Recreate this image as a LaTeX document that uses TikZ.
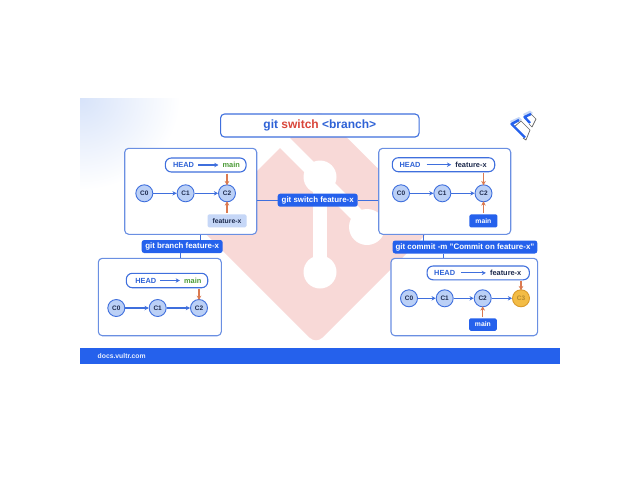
\documentclass[tikz,border=0pt]{standalone}
\usepackage{fontspec}
\setmainfont{Liberation Sans}
\usetikzlibrary{arrows.meta,calc}
\definecolor{vblue}{HTML}{2561EC}
\definecolor{vborder}{HTML}{6A8FE2}
\definecolor{vedge}{HTML}{3F6FDD}
\definecolor{vcirc}{HTML}{BBD0F6}
\definecolor{vlight}{HTML}{C6D7F7}
\definecolor{vhead}{HTML}{2E62D6}
\definecolor{vorange}{HTML}{DB7A50}
\definecolor{vgreen}{HTML}{4A9A35}
\definecolor{vdark}{HTML}{1D2A4D}
\definecolor{vpink}{HTML}{F8D9D7}
\definecolor{vred}{HTML}{D9463A}
\definecolor{vgold}{HTML}{F3BC45}
\definecolor{vgoldedge}{HTML}{D99A2B}
\definecolor{vgoldtext}{HTML}{B58A2E}
\tikzset{
  x=1pt,y=-1pt,
  panel/.style={draw=vborder,line width=1.1pt,rounded corners=4pt,fill=white,inner sep=0pt},
  pill/.style={draw=vedge,line width=1.1pt,rounded corners=6pt,fill=white,inner sep=0pt},
  cmd/.style={fill=vblue,text=white,rounded corners=2.5pt,inner sep=0pt,font=\bfseries\fontsize{7.9}{10}\selectfont},
  tag/.style={rounded corners=1.5pt,inner sep=0pt,font=\bfseries\fontsize{6.8}{8}\selectfont},
  commit/.style={circle,draw=vedge,line width=.9pt,fill=vcirc,minimum size=17pt,inner sep=0pt,text=vdark,font=\bfseries\fontsize{6.5}{7}\selectfont},
  lbl/.style={inner sep=0pt,font=\bfseries\fontsize{7.4}{9}\selectfont},
  link/.style={draw=vedge,line width=1pt},
  flow/.style={draw=vedge,line width=1.1pt,-{Stealth[length=4.2pt,width=4.4pt]}},
  ptr/.style={draw=vorange,line width=1.2pt,-{Stealth[length=4.4pt,width=4.6pt]}},
}
\begin{document}
\begin{tikzpicture}
\useasboundingbox (0,0) rectangle (640,480);
% corner glow
\begin{scope}
\clip (80,98) rectangle (190,200);
\shade[inner color=vlight!70!white,outer color=white] (80,98) ellipse (100 and 92);
\end{scope}
% git logo
\fill[vpink,rounded corners=9pt] (318.5,109.5) -- (435,225) -- (316,344) -- (200,228) -- cycle;
\draw[white,line width=14pt] (280,138) -- (367,225);
\draw[white,line width=14pt] (320,177) -- (320,272);
\fill[white] (320,177) circle (16.5) (367,227) circle (18) (320,272) circle (16.5);
% footer
\fill[vblue] (80,348) rectangle (560,364);
\node[anchor=west,text=white!90!vblue,inner sep=0pt,font=\bfseries\fontsize{6.8}{8}\selectfont] (site) at (97.5,356) {docs.vultr.com};
% title
\node[panel,draw=vedge,minimum width=198.5pt,minimum height=23pt,font=\bfseries\fontsize{12}{15}\selectfont] (title) at (319.8,125.5)
  {\textcolor{vhead}{git} \textcolor{vred}{switch} \textcolor{vhead}{<branch>}};
% panels
\node[panel,minimum width=132pt,minimum height=86pt] (tl) at (190.7,191.3) {};
\node[panel,minimum width=132pt,minimum height=86pt] (tr) at (444.7,191.3) {};
\node[panel,minimum width=123pt,minimum height=77.4pt] (bl) at (159.8,297) {};
\node[panel,minimum width=146.7pt,minimum height=77.4pt] (br) at (464.3,297) {};
% command labels
\node[cmd,minimum width=80pt,minimum height=13pt] (sw) at (317.7,200.2) {git switch feature-x};
\node[cmd,minimum width=81pt,minimum height=13pt] (lb) at (182.2,246.5) {git branch feature-x};
\node[cmd,minimum width=144.6pt,minimum height=13pt] (lc) at (465,247) {git commit -m "Commit on feature-x"};
\coordinate (ja) at (200.7,240);
\coordinate (jb) at (180.7,253);
\coordinate (jc) at (423.3,240.5);
\coordinate (jd) at (443.7,253.5);
\draw[link] (sw.west) -- (sw.west -| tl.east);
\draw[link] (sw.east) -- (sw.east -| tr.west);
\draw[link] (ja) -- (ja |- tl.south);
\draw[link] (jb) -- (jb |- bl.north);
\draw[link] (jc) -- (jc |- tr.south);
\draw[link] (jd) -- (jd |- br.north);
% top-left panel
\node[pill,minimum width=80.7pt,minimum height=14pt] (tlp) at (205.7,165) {};
\node[lbl,text=vhead] (tlh) at (183.5,165) {HEAD};
\node[lbl,text=vgreen] (tlm) at (231.3,165) {main};
\draw[flow] ($(tlh.east)+(4,0)$) -- ($(tlm.west)+(-4,0)$);
\node[commit] (a0) at (144.3,193.3) {C0};
\node[commit] (a1) at (185.6,193.3) {C1};
\node[commit] (a2) at (227,193.3) {C2};
\draw[flow] (a0) -- (a1);
\draw[flow] (a1) -- (a2);
\node[tag,fill=vlight,text=vdark,minimum width=39pt,minimum height=13pt] (tlf) at (227,220.9) {feature-x};
\draw[ptr] ($(a2 |- tlp.south)+(0,1)$) -- ([yshift=-1pt]a2.north);
\draw[ptr] ($(a2 |- tlf.north)+(0,-1)$) -- ([yshift=1pt]a2.south);
% top-right panel
\node[pill,minimum width=102.4pt,minimum height=14pt] (trp) at (443.5,164.7) {};
\node[lbl,text=vhead] (trh) at (410,164.7) {HEAD};
\node[lbl,text=vdark] (trf) at (471,164.7) {feature-x};
\draw[flow] ($(trh.east)+(6,0)$) -- ($(trf.west)+(-4,0)$);
\node[commit] (b0) at (401,193.3) {C0};
\node[commit] (b1) at (442.3,193.3) {C1};
\node[commit] (b2) at (483.5,193.3) {C2};
\draw[flow] (b0) -- (b1);
\draw[flow] (b1) -- (b2);
\node[tag,fill=vblue,text=white,minimum width=28pt,minimum height=13pt] (trm) at (483.4,220.9) {main};
\draw[ptr] ($(b2 |- trp.south)+(0,1)$) -- ([yshift=-1pt]b2.north);
\draw[ptr] ($(b2 |- trm.north)+(0,-1)$) -- ([yshift=1pt]b2.south);
% bottom-left panel
\node[pill,minimum width=81.4pt,minimum height=14.4pt] (blp) at (167,280.5) {};
\node[lbl,text=vhead] (blh) at (145.8,280.5) {HEAD};
\node[lbl,text=vgreen] (blm) at (192.7,280.5) {main};
\draw[flow] ($(blh.east)+(4,0)$) -- ($(blm.west)+(-4,0)$);
\node[commit] (c0) at (116.3,308) {C0};
\node[commit] (c1) at (157.7,308) {C1};
\node[commit] (c2) at (199,308) {C2};
\draw[flow] (c0) -- (c1);
\draw[flow] (c1) -- (c2);
\draw[ptr] ($(c2 |- blp.south)+(0,1)$) -- ([yshift=-1pt]c2.north);
% bottom-right panel
\node[pill,minimum width=102.3pt,minimum height=13.8pt] (brp) at (478.2,272.9) {};
\node[lbl,text=vhead] (brh) at (444.7,272.9) {HEAD};
\node[lbl,text=vdark] (brf) at (505.7,272.9) {feature-x};
\draw[flow] ($(brh.east)+(6,0)$) -- ($(brf.west)+(-4,0)$);
\node[commit] (d0) at (409,298.3) {C0};
\node[commit] (d1) at (444.7,298.3) {C1};
\node[commit] (d2) at (482.7,298.3) {C2};
\node[commit,fill=vgold,draw=vgoldedge,text=vgoldtext] (d3) at (521,298.3) {C3};
\draw[flow] (d0) -- (d1);
\draw[flow] (d1) -- (d2);
\draw[flow] (d2) -- (d3);
\node[tag,fill=vblue,text=white,minimum width=27.7pt,minimum height=12.5pt] (brm) at (482.9,324.5) {main};
\draw[ptr] ($(d3 |- brp.south)+(0,1)$) -- ([yshift=-1pt]d3.north);
\draw[ptr] ($(d2 |- brm.north)+(0,-1)$) -- ([yshift=1pt]d2.south);
% brand mark
\fill[vlight] (510,121) -- (519,117) -- (522,120) -- (512,125) -- cycle;
\fill[vlight] (523,114) -- (530,110.5) -- (533,113) -- (525,117) -- cycle;
\draw[black!60,line width=.7pt,line join=round] (514,127) -- (521,121) -- (530,130) -- (526,140) -- (523,138);
\draw[vblue,line width=2.4pt,line join=round] (525,137.5) -- (511.5,124) -- (519,120);
\draw[black!60,line width=.7pt,line join=round] (531,114) -- (536,119) -- (532,127) -- (529,124);
\draw[vblue,line width=2.4pt,line join=round] (530,123) -- (524.5,117) -- (531,114);
\end{tikzpicture}
\end{document}
